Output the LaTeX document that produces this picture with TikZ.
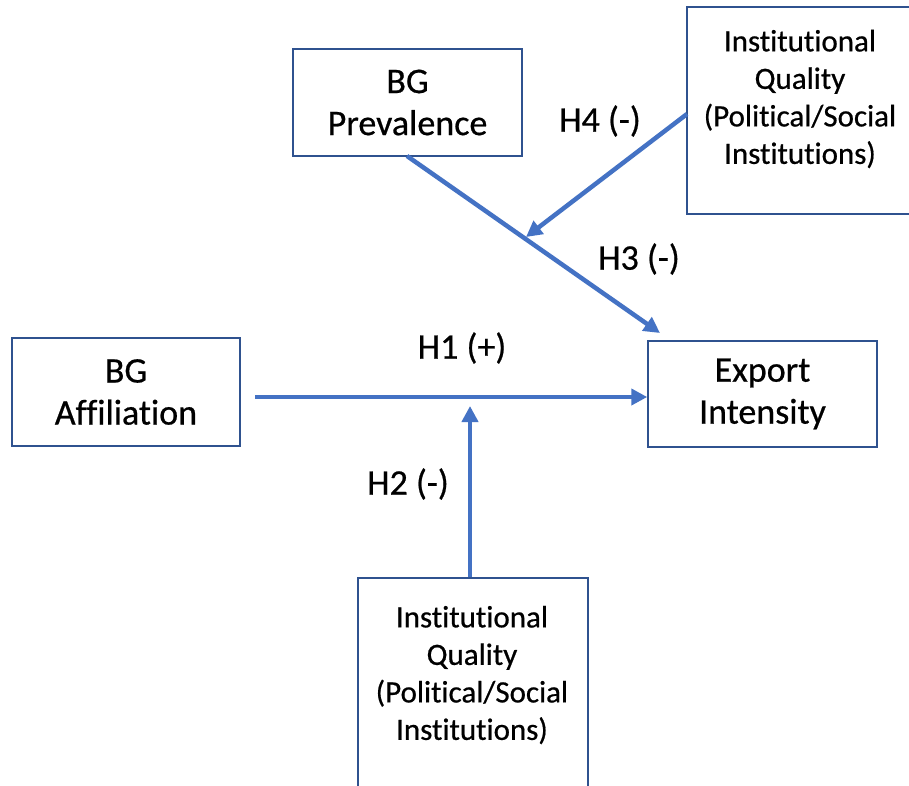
\documentclass[tikz,border=0pt]{standalone}
\usepackage{fontspec}
\setmainfont{Carlito}[Ligatures=NoCommon,BoldFont=Carlito,BoldFeatures={FakeBold=0.6}]
\usetikzlibrary{arrows.meta}
\definecolor{arrowblue}{HTML}{4472C4}
\definecolor{boxblue}{HTML}{2F528F}
\begin{document}
\begin{tikzpicture}[x=1pt,y=-1pt,
  box/.style={draw=boxblue,line width=1.5pt,fill=white,inner sep=0pt,align=center,
    font=\fontsize{36}{42}\selectfont\bfseries},
  iqtext/.style={inner sep=0pt,align=center,font=\fontsize{31}{37.5}\selectfont\bfseries},
  hyp/.style={inner sep=0pt,font=\fontsize{36}{42}\selectfont\bfseries},
  arr/.style={draw=arrowblue,line width=4.5pt,-{Triangle[length=16pt,width=16pt]}}
]
\useasboundingbox (0,0) rectangle (909,785);
\clip (0,0) rectangle (909,785);
\fill[white] (0,0) rectangle (909,785);

% boxes
\node[box,minimum width=229pt,minimum height=107pt] (prev) at (407.5,102.5) {BG\\Prevalence};
\node[box,minimum width=228pt,minimum height=108pt] (aff) at (126,392) {BG\\Affiliation};
\node[box,minimum width=229pt,minimum height=106pt] (exp) at (762.5,394) {Export\\Intensity};
\node[box,minimum width=226pt,minimum height=207pt] (iqtbox) at (800,110.5) {};
\node[iqtext] (iqt) at (800,99) {Institutional\\Quality\\(Political/Social\\Institutions)};
\node[box,minimum width=230pt,minimum height=222pt] (iqbbox) at (473,689) {};
\node[iqtext] (iqb) at (472,675) {Institutional\\Quality\\(Political/Social\\Institutions)};

% connectors
\coordinate (h1start) at (255,397);
\coordinate (h2end) at (470,406);
\coordinate (h3start) at (407,156);
\coordinate (h3end) at (660,333);
\coordinate (h4start) at (687,114);
\coordinate (h4end) at (526,237);

\draw[arr] (h1start) -- (h1start -| exp.west);
\draw[arr] (h2end |- iqbbox.north) -- (h2end);
\draw[arr] (h3start) -- (h3end);
\draw[arr] (h4start) -- (h4end);

% labels
\node[hyp] (h1) at (462,348) {H1 (+)};
\node[hyp] (h2) at (408,484) {H2 (-)};
\node[hyp] (h3) at (639,259) {H3 (-)};
\node[hyp] (h4) at (600,121) {H4 (-)};
\end{tikzpicture}
\end{document}
